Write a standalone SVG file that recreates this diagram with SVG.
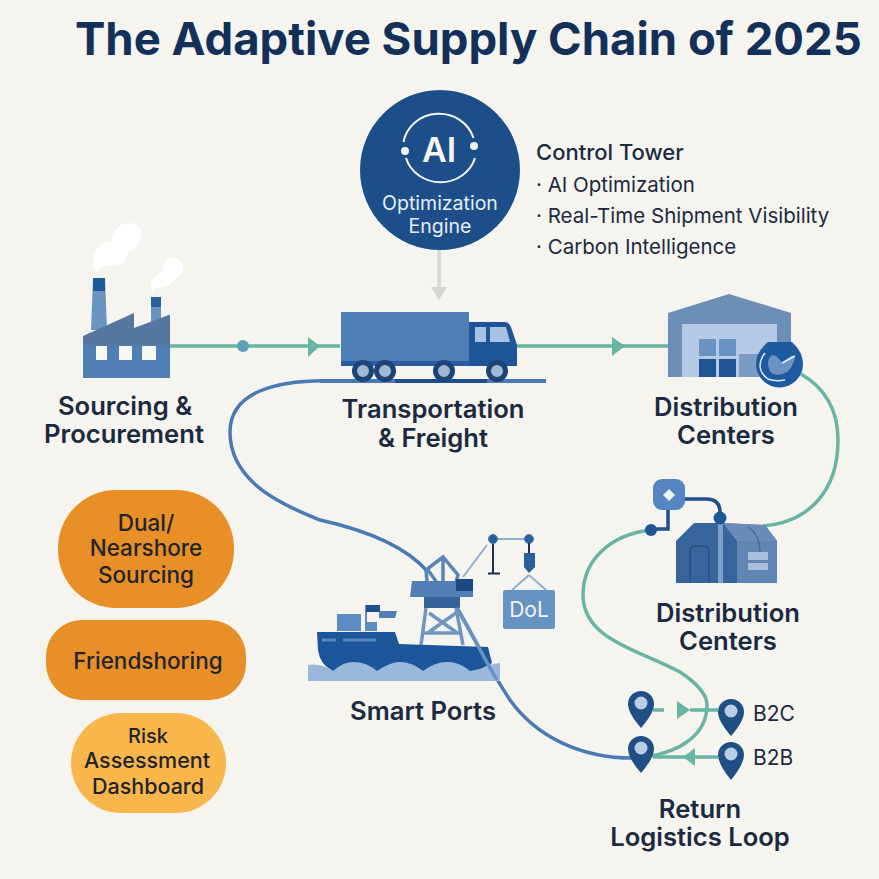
<svg xmlns="http://www.w3.org/2000/svg" width="879" height="879" viewBox="0 0 879 879">
<style>
text{font-family:"Inter","Liberation Sans",sans-serif;fill:#1b2a41}
.t{font-weight:600;font-size:25.600px;text-anchor:middle}
.p{font-weight:500;font-size:22.500px;text-anchor:middle;fill:#22242c}
.b{font-size:20.500px}
.teal{fill:none;stroke:#67b5a2;stroke-width:3.500}
.blue{fill:none;stroke:#4a7ab5;stroke-width:3.500}
.pin{fill:#1f4f84}
.pinc{fill:#b9cde6}
.w{fill:#f5f4ee}
</style>
<rect width="879" height="879" fill="#f5f4ee"/>
<text id="title" x="75" y="55" font-size="45.500" font-weight="700" style="fill:#12305a">The Adaptive Supply Chain of 2025</text>
<g id="connectors">
<path class="teal" d="M170 346H340M517 346H668"/>
<circle cx="243" cy="346" r="6" fill="#5d9fb5"/>
<path d="M308 337L320 346L308 357Z" fill="#67b5a2"/>
<path d="M612 337L625 346L612 356Z" fill="#67b5a2"/>
<path d="M439 250V292" stroke="#d3d8d3" stroke-width="3.500" fill="none"/>
<path d="M431 287H447L439 300Z" fill="#d3d8d3"/>
<path class="blue" d="M340 381C270 378 230 395 230 432C230 485 290 508 320 520C365 530 405 545 428 572"/>
<path class="blue" d="M457 608C470 630 490 670 510 700C535 735 580 760 640 758"/>
<path class="teal" d="M801 374C825 388 838 410 838 440C838 490 810 522 763 526"/>
<path class="teal" d="M650 530C610 535 583 560 583 595C583 640 640 650 680 672C698 684 707 695 707 705C707 735 680 752 645 757"/>
<path class="teal" d="M653 710H664M690 710H718M653 757H718"/>
<path d="M677 701L690 710L677 719Z" fill="#67b5a2"/>
<path d="M683 757L695 748V766Z" fill="#67b5a2"/>
<path d="M668 510V529H651" fill="none" stroke="#1f4f8c" stroke-width="3.500"/>
</g>
<g id="ai-engine">
<circle cx="440" cy="170" r="80" fill="#1c4f8a"/>
<path d="M403.500 142A36 34 0 0 1 473.500 138M475 158A36 34 0 0 1 406 158" fill="none" stroke="#f5f4ee" stroke-width="2"/>
<circle cx="405" cy="151" r="4" class="w"/>
<circle cx="474" cy="146" r="4" class="w"/>
<text x="439" y="162" font-size="34" font-weight="600" text-anchor="middle" style="fill:#f5f4ee">AI</text>
<text x="440" y="210" font-size="19.500" text-anchor="middle" style="fill:#e8edf2">Optimization</text>
<text x="440" y="233" font-size="19.500" text-anchor="middle" style="fill:#e8edf2">Engine</text>
</g>
<g id="control-tower">
<text x="536" y="160" font-size="22" font-weight="500">Control Tower</text>
<text x="536" y="192" class="b">· AI Optimization</text>
<text x="536" y="223" class="b">· Real-Time Shipment Visibility</text>
<text x="536" y="254" class="b">· Carbon Intelligence</text>
</g>
<g id="sourcing">
<path d="M97 273C93 268 93 262 94 257C95 250 97 247 100 245C104 242 108 242 112 241C112 233 116 225 128 223C136 223 141 227 141 233C141 240 139 244 137 247C133 250 130 251 128 253C126 258 125 261 123 263C116 266 109 266 103 265C100 268 99 271 97 273Z" fill="#fff"/>
<path d="M153 293C151 289 150 285 151 282C153 276 158 274 162 272C163 266 164 262 167 260C171 257 175 257 178 259C182 262 184 266 183 270C181 274 179 276 177 278C174 281 171 284 168 286C164 288 160 288 157 287C155 289 154 291 153 293Z" fill="#fff"/>
<path d="M93 278H105L107 330H91Z" fill="#6a95c0"/>
<path d="M93 278H105V291H93Z" fill="#1f5a9a"/>
<path d="M151 297H161V325H151Z" fill="#6a95c0"/>
<path d="M151 297H161V307H151Z" fill="#2b5f9c"/>
<path d="M83 336L134 313V328L170 314.500V345H83Z" fill="#56779f"/>
<path d="M83 345H170V378H83Z" fill="#4f7fb5"/>
<path d="M96 346H107V360H96ZM119 346H132V360H119ZM142 346H156V360H142Z" fill="#f8f7f1"/>
<text class="t" x="125" y="415">Sourcing &amp;</text>
<text class="t" x="124" y="443">Procurement</text>
</g>
<g id="transportation">
<path d="M320 381H546" stroke="#4a7ab5" stroke-width="4" fill="none"/>
<path d="M395 381H487" stroke="#1d4f8c" stroke-width="4" fill="none"/>
<rect x="341" y="312" width="128" height="53" fill="#4f7fb8"/>
<path d="M341 361H469V366H341Z" fill="#2a5d9f"/>
<path d="M469 322H505Q509 322 511 327L517 345V366H469Z" fill="#1d5597"/>
<path d="M475 327H486V342H475ZM490 327H506L510 342H490Z" fill="#a9c1e4"/>
<g fill="#a0b8d4" stroke="#1c4477" stroke-width="5">
<circle cx="363" cy="371" r="8.500"/><circle cx="385" cy="371" r="8.500"/><circle cx="444" cy="371" r="8.500"/><circle cx="497" cy="371" r="8.500"/>
</g>
<text class="t" x="433" y="418">Transportation</text>
<text class="t" x="433" y="447">&amp; Freight</text>
</g>
<g id="distribution-1">
<path d="M668 313L729 294L791 313V377H668Z" fill="#6d8eb6"/>
<rect x="682" y="324" width="95" height="53" fill="#b4cae6"/>
<path d="M699 339H716V356H699ZM719 339H736V356H719Z" fill="#6a92c2"/>
<path d="M699 359H716V377H699ZM719 359H736V377H719Z" fill="#1f5595"/>
<rect x="739" y="354" width="22" height="23" fill="#7b9bc3"/>
<path d="M768 342H792Q803 352 803 364A23.500 23.500 0 0 1 756 364Q756 352 768 342Z" fill="#1e5aa0"/>
<path d="M765 353C758 362 758 372 768 379C773 381 780 381 785 380" fill="none" stroke="#dfe8f2" stroke-width="1.500"/>
<path d="M768 362Q770 355 773 355Q778 356 782 363L792 355L795 358Q792 368 787 372Q780 376 773 374Q768 371 768 362Z" fill="#6a92c2"/>
<path d="M782 363L795 356" stroke="#eef2f7" stroke-width="1.500" fill="none"/>
<text class="t" x="726" y="416">Distribution</text>
<text class="t" x="726" y="444">Centers</text>
</g>
<g id="distribution-2">
<rect x="653" y="479" width="32" height="31" rx="9" fill="#5585c2"/>
<path d="M669 489L675 495L669 501L663 495Z" fill="#eef3f8"/>
<circle cx="651" cy="530" r="6" fill="#1d5597"/>
<path d="M676 583V541L694 523H727L737 541V583Z" fill="#36659b"/>
<path d="M723 523L765 525L777 541V583H737V541Z" fill="#6185b3"/>
<path d="M723 523L765 525L777 541H737Z" fill="#6b8cb8"/>
<rect x="718" y="523" width="5" height="60" fill="#7da0c8"/>
<path d="M690 583V552Q690 546 696 546H703Q709 546 709 552V583" fill="none" stroke="#234f84" stroke-width="1.500"/>
<path d="M748 527Q760 535 760 552" fill="none" stroke="#3f6ca3" stroke-width="1.500"/>
<path d="M748 552H768V560H748ZM748 563H768V570H748Z" fill="#a9bfd9"/>
<path d="M685 499H706Q720 499 720 512" fill="none" stroke="#1f4f8c" stroke-width="3.500"/>
<circle cx="720" cy="518" r="6.500" fill="#1d5597"/>
<text class="t" x="728" y="622">Distribution</text>
<text class="t" x="728" y="650">Centers</text>
</g>
<g id="smart-ports">
<path d="M463 577L487 545M493 539H529M529 575L512 590M529 575L546 590" stroke="#8fafd0" stroke-width="2" fill="none"/>
<path d="M493 539V573M488 573.500H500" stroke="#1d2f4d" stroke-width="2" fill="none"/>
<circle cx="493" cy="539" r="4.500" fill="#2b5f9c" stroke="#4a7ab5"/>
<circle cx="529" cy="539" r="4.500" fill="#2b5f9c" stroke="#4a7ab5"/>
<path d="M529 543V553" stroke="#1d2f4d" stroke-width="2" fill="none"/>
<path d="M524 553H535V567L529 573L524 567Z" fill="#2b5f9c"/>
<rect x="503" y="590" width="52" height="39" rx="2" fill="#6594c2"/>
<text x="529" y="617" font-size="21" text-anchor="middle" style="fill:#f5f4ee">DoL</text>
<path d="M426 570L443 557L458 575L456 582M443 557V582M428 570L440 587M426 570L427 582" fill="none" stroke="#5a86b8" stroke-width="3.500"/>
<path d="M412 581H473V597L410 597Z" fill="#4f7fb5"/>
<rect x="456" y="579" width="17" height="12" fill="#1d4a84"/>
<rect x="424" y="597" width="36" height="11" fill="#336399"/>
<path d="M426 608L421 645M456 608L463 645M429 613L456 632M456 613L429 632M424 633H461" stroke="#7096bf" stroke-width="3.500" fill="none"/>
<path d="M337 614H361V631H337ZM365 622H377V631H365Z" fill="#5d8cc2"/>
<path d="M366 605V622" stroke="#5d8cc2" stroke-width="2"/>
<path d="M366 605H380V612H366Z" fill="#1f4f8c"/>
<path d="M379 611H397L395 618H379Z" fill="#4f7fb5"/>
<path d="M317 632H395L399 644L488 647L492 663L478 671H333Q320 665 318 650Z" fill="#1c5599"/>
<path d="M322 640H336M343 640H376" stroke="#5a86b8" stroke-width="3" fill="none"/>
<path d="M308 665Q320 663 333 671Q343 662 353 662Q367 662 377 671Q390 662 400 662Q412 662 423 671Q435 662 447 662Q460 662 470 671L480 669Q490 664 500 663V681H308Z" fill="#9bb8dc"/>
<path d="M457 608C470 630 485 660 497 680" stroke="#6a92c0" stroke-width="3.500" fill="none"/>
<text class="t" x="423" y="720">Smart Ports</text>
</g>
<g id="dual-sourcing">
<rect x="58" y="490" width="176" height="118" rx="58" fill="#e88f27"/>
<text class="p" x="146" y="531">Dual/</text>
<text class="p" x="146" y="556">Nearshore</text>
<text class="p" x="146" y="583">Sourcing</text>
</g>
<g id="friendshoring">
<rect x="46" y="620" width="200" height="80" rx="36" fill="#e88f27"/>
<text class="p" x="148" y="669">Friendshoring</text>
</g>
<g id="risk">
<rect x="71" y="713" width="155" height="100" rx="50" fill="#f8b64d"/>
<text class="p" x="148" y="743" style="font-size:20px">Risk</text>
<text class="p" x="147" y="768" style="font-size:21.500px">Assessment</text>
<text class="p" x="148" y="794" style="font-size:21.500px">Dashboard</text>
</g>
<g id="return-logistics">
<path class="pin" d="M628 704A13 13 0 0 1 654 704Q654 713 641 728Q628 713 628 704Z"/>
<circle class="pinc" cx="641" cy="703" r="6.500"/>
<path class="pin" d="M628 749A13 13 0 0 1 654 749Q654 758 641 773Q628 758 628 749Z"/>
<circle class="pinc" cx="641" cy="748" r="6.500"/>
<path class="pin" d="M718 712A13 13 0 0 1 744 712Q744 721 731 736Q718 721 718 712Z"/>
<circle class="pinc" cx="731" cy="711" r="6.500"/>
<path class="pin" d="M718 755A13 13 0 0 1 744 755Q744 764 731 780Q718 764 718 755Z"/>
<circle class="pinc" cx="731" cy="754" r="6.500"/>
<text x="753" y="721" font-size="21">B2C</text>
<text x="753" y="765" font-size="21">B2B</text>
<text class="t" x="700" y="818">Return</text>
<text class="t" x="700" y="846">Logistics Loop</text>
</g>
</svg>
